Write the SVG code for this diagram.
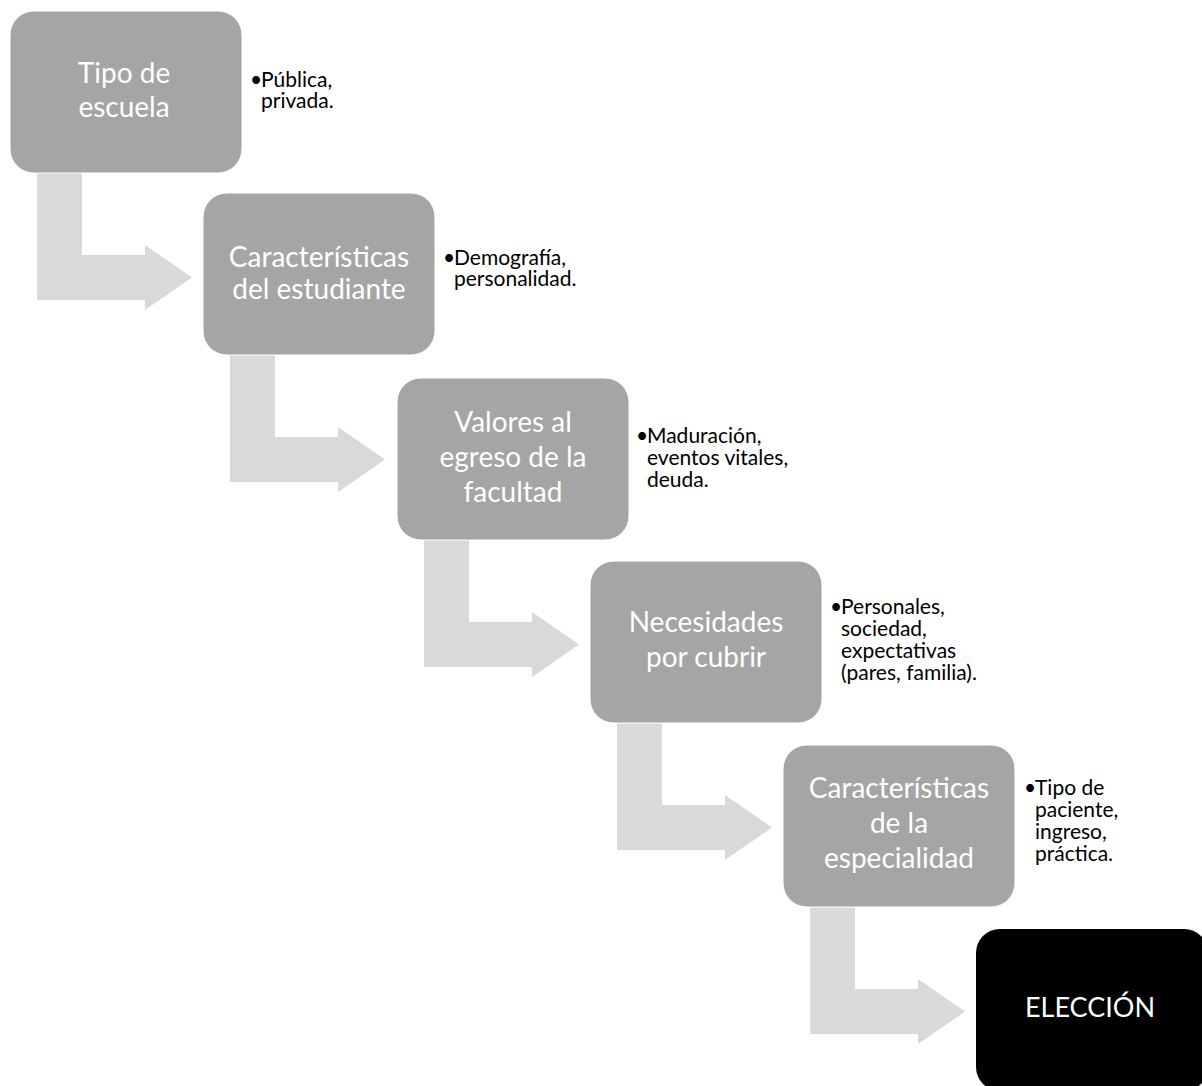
<svg xmlns="http://www.w3.org/2000/svg" width="1202" height="1086" viewBox="0 0 1202 1086">
<style>
.box{fill:#a5a5a5;stroke:#ffffff;stroke-width:1}
.final{fill:#000000}
.arr{fill:#d9d9d9}
.bt{font-family:Lato,"Open Sans","Liberation Sans",sans-serif;font-size:28px;fill:#ffffff;text-anchor:middle}
.nt{font-family:Lato,"Open Sans","Liberation Sans",sans-serif;font-size:21px;fill:#000000}
</style>
<rect width="1202" height="1086" fill="#ffffff"/>
<g id="connectors">
<path class="arr" d="M37,173 L82,173 L82,255 L145,255 L145,245 L192,277.5 L145,310 L145,300 L37,300 Z"/>
<path class="arr" d="M230,355 L275,355 L275,437 L338,437 L338,427 L385,459.5 L338,492 L338,482 L230,482 Z"/>
<path class="arr" d="M424,540 L469,540 L469,622 L532,622 L532,612 L579,644.5 L532,677 L532,667 L424,667 Z"/>
<path class="arr" d="M617,723 L662,723 L662,805 L725,805 L725,795 L772,827.5 L725,860 L725,850 L617,850 Z"/>
<path class="arr" d="M810,907 L855,907 L855,989 L918,989 L918,979 L965,1011.5 L918,1044 L918,1034 L810,1034 Z"/>
</g>
<g id="node1">
<rect class="box" x="10" y="11" width="232" height="162" rx="24"/>
<text class="bt"><tspan x="124" y="83">Tipo de</tspan><tspan x="124" y="117">escuela</tspan></text>
<text class="nt"><tspan x="250" y="87">•</tspan><tspan x="261" y="87">Pública,</tspan><tspan x="261" y="108">privada.</tspan></text>
</g>
<g id="node2">
<rect class="box" x="203" y="193" width="232" height="162" rx="24"/>
<text class="bt"><tspan x="319" y="267">Características</tspan><tspan x="319" y="299">del estudiante</tspan></text>
<text class="nt"><tspan x="443" y="265">•</tspan><tspan x="454" y="265">Demografía,</tspan><tspan x="454" y="286">personalidad.</tspan></text>
</g>
<g id="node3">
<rect class="box" x="397" y="378" width="232" height="162" rx="24"/>
<text class="bt"><tspan x="513" y="432">Valores al</tspan><tspan x="513" y="467">egreso de la</tspan><tspan x="513" y="502">facultad</tspan></text>
<text class="nt"><tspan x="636" y="443">•</tspan><tspan x="647" y="443">Maduración,</tspan><tspan x="647" y="465">eventos vitales,</tspan><tspan x="647" y="487">deuda.</tspan></text>
</g>
<g id="node4">
<rect class="box" x="590" y="561" width="232" height="162" rx="24"/>
<text class="bt"><tspan x="706" y="632">Necesidades</tspan><tspan x="706" y="667">por cubrir</tspan></text>
<text class="nt"><tspan x="830" y="614">•</tspan><tspan x="841" y="614">Personales,</tspan><tspan x="841" y="636">sociedad,</tspan><tspan x="841" y="658">expectativas</tspan><tspan x="841" y="680">(pares, familia).</tspan></text>
</g>
<g id="node5">
<rect class="box" x="783" y="745" width="232" height="162" rx="24"/>
<text class="bt"><tspan x="899" y="798">Características</tspan><tspan x="899" y="833">de la</tspan><tspan x="899" y="868">especialidad</tspan></text>
<text class="nt"><tspan x="1024" y="795">•</tspan><tspan x="1035" y="795">Tipo de</tspan><tspan x="1035" y="817">paciente,</tspan><tspan x="1035" y="839">ingreso,</tspan><tspan x="1035" y="861">práctica.</tspan></text>
</g>
<g id="node6">
<rect class="final" x="976" y="929" width="232" height="162" rx="24"/>
<text class="bt" style="font-size:27px"><tspan x="1090" y="1017">ELECCIÓN</tspan></text>
</g>
</svg>
